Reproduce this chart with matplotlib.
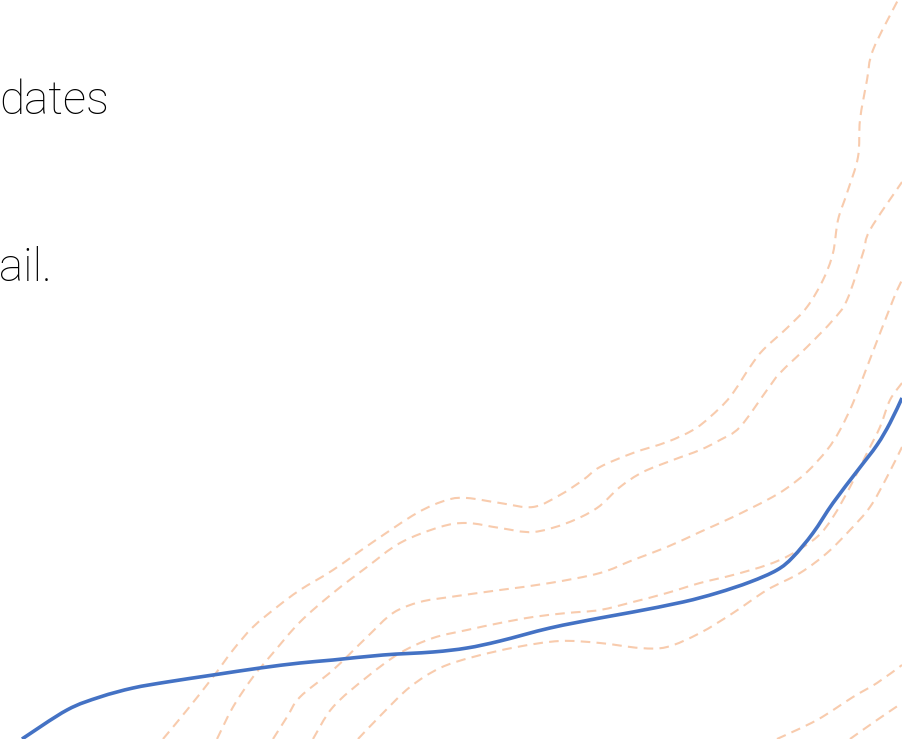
import matplotlib
matplotlib.use("Agg")
import matplotlib.pyplot as plt
from matplotlib.path import Path
from matplotlib.patches import PathPatch

# cropped slide: coordinates are in canvas units (902 x 739, y down)
W, H = 902, 739

# main (solid) series
blue_x = [22, 67, 100, 133, 167, 213, 260, 300, 333, 383, 433, 467, 500, 550, 600,
          633, 683, 717, 750, 777, 793, 813, 833, 858, 877, 890, 902]
blue_y = [739, 710, 697, 688, 682, 675, 668, 663, 660, 655, 652, 648, 641, 628, 618,
          612, 602, 593, 582, 570, 557, 533, 503, 470, 445, 423, 398]

# dashed band lines
band1_x = [163, 187, 213, 233, 253, 277, 300, 333, 373, 417, 447, 467, 500, 533, 560, 583,
           600, 633, 667, 693, 710, 730, 750, 763, 787, 807, 823, 833, 838, 847, 858, 860,
           867, 873, 898]
band1_y = [739, 710, 677, 650, 627, 607, 590, 570, 542, 513, 500, 498, 503, 507, 495, 480,
           467, 453, 442, 430, 417, 397, 367, 350, 328, 307, 280, 253, 220, 193, 157, 120,
           80, 50, 0]

band2_x = [217, 233, 253, 273, 300, 333, 367, 400, 440, 467, 500, 533, 567, 597, 620, 643,
           673, 700, 720, 740, 767, 780, 807, 833, 847, 863, 870, 902]
band2_y = [739, 707, 677, 653, 622, 593, 567, 543, 527, 523, 528, 532, 523, 508, 487, 472,
           460, 450, 440, 427, 390, 373, 347, 320, 300, 253, 230, 182]

band3_x = [273, 287, 300, 333, 367, 393, 420, 450, 500, 550, 600, 633, 667, 700, 733, 767,
           787, 807, 827, 840, 853, 867, 893, 902]
band3_y = [739, 717, 697, 670, 637, 613, 602, 597, 590, 583, 573, 560, 547, 532, 517, 500,
           488, 472, 450, 430, 403, 367, 300, 280]

band4_x = [313, 333, 367, 400, 433, 467, 500, 533, 567, 600, 633, 667, 700, 733, 767, 790,
           817, 833, 850, 867, 880, 890, 902]
band4_y = [739, 707, 677, 653, 638, 630, 623, 617, 613, 610, 602, 593, 583, 575, 565, 555,
           537, 517, 487, 453, 427, 400, 383]

band5_x = [358, 383, 410, 440, 473, 517, 560, 600, 640, 667, 700, 733, 767, 800, 827, 850,
           870, 887, 902]
band5_y = [739, 713, 687, 668, 657, 647, 641, 643, 648, 647, 633, 613, 590, 573, 553, 530,
           507, 477, 447]

band6_x = [777, 817, 853, 877, 902]
band6_y = [739, 720, 697, 683, 665]

band7_x = [850, 877, 902]
band7_y = [739, 720, 703]

line1 = "dates"
line2 = "ail."


def smooth_path(xs, ys):
    # smoothed line like office charts: bezier segments through every point
    pts = list(zip(xs, ys))
    verts = [pts[0]]
    codes = [Path.MOVETO]
    n = len(pts)
    for i in range(n - 1):
        p0 = pts[i - 1] if i > 0 else pts[i]
        p1 = pts[i]
        p2 = pts[i + 1]
        p3 = pts[i + 2] if i + 2 < n else pts[i + 1]
        c1 = (p1[0] + (p2[0] - p0[0]) / 6, p1[1] + (p2[1] - p0[1]) / 6)
        c2 = (p2[0] - (p3[0] - p1[0]) / 6, p2[1] - (p3[1] - p1[1]) / 6)
        verts += [c1, c2, p2]
        codes += [Path.CURVE4] * 3
    return Path(verts, codes)


fig = plt.figure(figsize=(W / 100, H / 100), dpi=100)
ax = fig.add_axes([0, 0, 1, 1])
ax.set_xlim(0, W)
ax.set_ylim(H, 0)
ax.axis("off")

peach = "#F8CBAD"
for bx, by in [(band1_x, band1_y), (band2_x, band2_y), (band3_x, band3_y),
               (band4_x, band4_y), (band5_x, band5_y), (band6_x, band6_y),
               (band7_x, band7_y)]:
    ax.add_patch(PathPatch(smooth_path(bx, by), fill=False, edgecolor=peach, lw=1.5,
                           linestyle=(0, (4.6, 3.0)), capstyle="butt"))

ax.add_patch(PathPatch(smooth_path(blue_x, blue_y), fill=False, edgecolor="#4472C4",
                       lw=2.6, joinstyle="round", capstyle="butt"))

ax.text(-1, 114, line1, fontsize=33, family=["Roboto", "DejaVu Sans"], weight="light",
        color="black", va="baseline", ha="left")
ax.text(-1, 281, line2, fontsize=33, family=["Roboto", "DejaVu Sans"], weight="light",
        color="black", va="baseline", ha="left")

fig.savefig("out.png", dpi=100)
